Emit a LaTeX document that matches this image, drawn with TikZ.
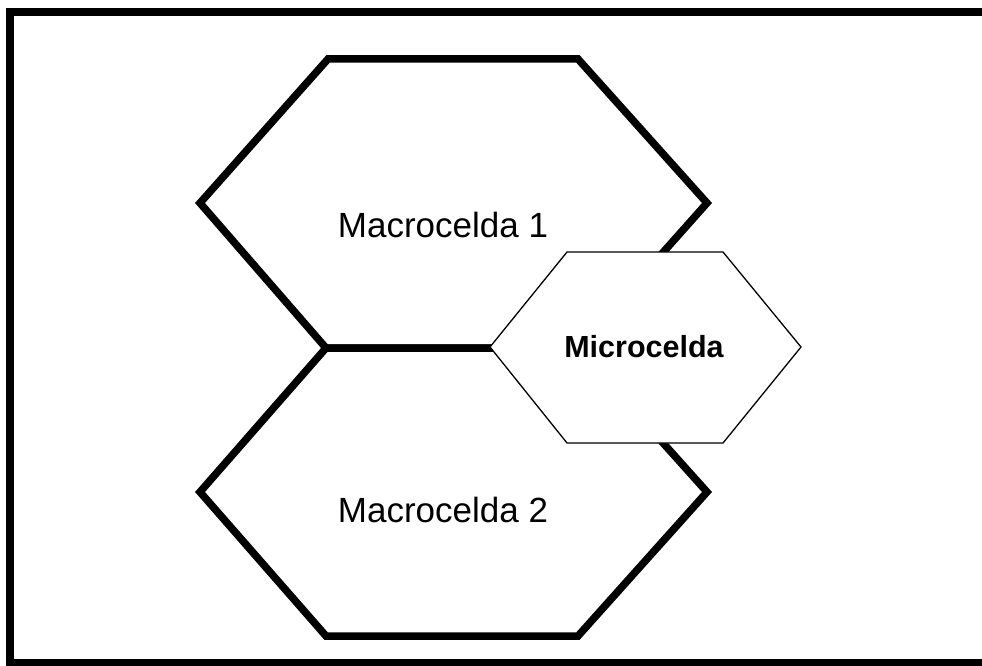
\documentclass[tikz,border=0pt]{standalone}
\usepackage{fontspec}
\setmainfont{Liberation Sans}
\usetikzlibrary{positioning}

\begin{document}
\begin{tikzpicture}[x=1pt,y=-1pt,
	macro/.style={line width=7.5pt,line join=miter},
	micro/.style={line width=1.3pt,fill=white},
	etiq/.style={anchor=base,inner sep=0pt,font=\fontsize{35}{40}\selectfont}]
	\useasboundingbox (0,0) rectangle (982,666);
	\draw[line width=8pt] (10,12) rectangle (990,663);
	\draw[macro] (328,59)--(578,59)--(707,203)--(578,348)--(326,348)--(200,203)--cycle;
	\draw[macro] (326,348)--(578,348)--(707,492)--(578,636)--(326,636)--(200,492)--cycle;
	\draw[micro] (490,347)--(567,252)--(723,252)--(801,347)--(723,443)--(567,443)--cycle;
	\node[etiq] (macro1) at (443,237) {Macrocelda 1};
	\node[etiq] (macro2) at (443,522) {Macrocelda 2};
	\node[etiq,font=\bfseries\fontsize{30.5}{36}\selectfont] (micro) at (644,357) {Microcelda};
\end{tikzpicture}
\end{document}
